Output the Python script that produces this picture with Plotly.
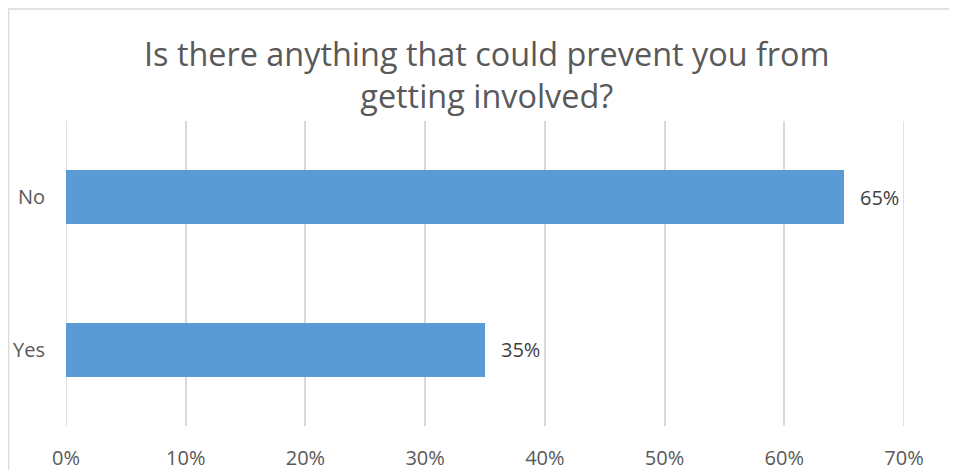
import plotly.graph_objects as go

categories = ["Yes", "No"]
values = [0.35, 0.65]
x_ticks = [0, 0.1, 0.2, 0.3, 0.4, 0.5, 0.6, 0.7]
x_tick_labels = ["0%", "10%", "20%", "30%", "40%", "50%", "60%", "70%"]
title_text = "Is there anything that could prevent you from<br>getting involved?"

# page has an 8px body margin, so the figure starts at (8, 8)
W, H = 949, 462
L, R, T, B = 58, 53, 113, 44
FONT = "Open Sans"
GRAY = "#595959"
GRID = "#D9D9D9"

fig = go.Figure()
fig.add_trace(go.Bar(
    y=categories, x=values, orientation="h",
    marker=dict(color="#5B9BD5", line=dict(width=0)),
    width=0.354, hoverinfo="skip",
))

for c, v in zip(categories, values):
    fig.add_annotation(x=v, y=c, text=f"{round(v*100)}%", showarrow=False,
                       xanchor="left", xshift=14, font=dict(family=FONT, size=20, color="#404040"))

# gridlines at the range edges (plotly omits gridlines lying on the plot border)
for edge in (x_ticks[0], x_ticks[-1]):
    fig.add_shape(type="line", xref="x", yref="paper", x0=edge, x1=edge, y0=0, y1=1,
                  line=dict(color=GRID, width=1.5), layer="below")

pw = W - L - R
ph = H - T - B
fig.add_shape(type="rect", xref="paper", yref="paper",
              x0=(0.5 - L) / pw, x1=(W + 5 - L) / pw,
              y0=-(H + 5 - T - ph) / ph, y1=1 + (T - 1) / ph,
              line=dict(color=GRID, width=1.5), layer="below")

fig.add_annotation(text=title_text, xref="paper", yref="paper",
                   x=0.5, xshift=2, y=1 + 47 / ph, yanchor="middle", xanchor="center",
                   showarrow=False, align="center",
                   font=dict(family=FONT, size=32.4, color=GRAY))

fig.update_layout(
    width=W, height=H,
    margin=dict(l=L, r=R, t=T, b=B, autoexpand=False),
    paper_bgcolor="white", plot_bgcolor="white",
    showlegend=False,
    xaxis=dict(range=[x_ticks[0], x_ticks[-1]], tickvals=x_ticks, ticktext=x_tick_labels,
               showgrid=True, gridcolor=GRID, gridwidth=1.5,
               zeroline=False, showline=False, ticks="",
               ticklabelstandoff=18, fixedrange=True, automargin=False,
               tickfont=dict(family=FONT, size=20, color=GRAY)),
    yaxis=dict(showgrid=False, zeroline=False, showline=False, ticks="",
               ticklabelstandoff=20, range=[-0.5, 1.5], automargin=False,
               tickfont=dict(family=FONT, size=20, color=GRAY)),
    bargap=0,
)

fig.write_html("out.html")
